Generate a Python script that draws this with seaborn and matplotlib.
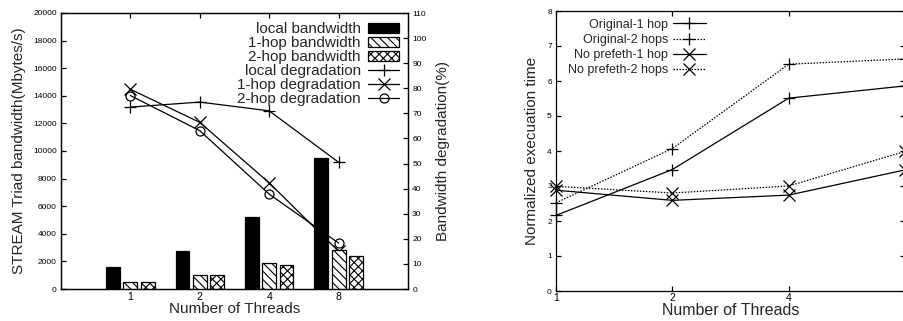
import matplotlib
matplotlib.use("Agg")
import matplotlib.pyplot as plt
import seaborn as sns
import pandas as pd
from matplotlib.patches import Patch
from matplotlib.lines import Line2D

# ---- data ----
threads = ["1", "2", "4", "8"]

local_bw = [1570, 2750, 5200, 9500]
hop1_bw = [520, 1050, 1920, 2800]
hop2_bw = [500, 980, 1760, 2400]

local_deg = [72.5, 74.5, 71.0, 50.5]
hop1_deg = [79.6, 66.4, 42.3, 15.0]
hop2_deg = [77.1, 63.1, 37.8, 18.3]

orig_1hop = [2.16, 3.47, 5.51, 5.86]
orig_2hops = [2.52, 4.07, 6.48, 6.63]
nopf_1hop = [2.88, 2.59, 2.74, 3.46]
nopf_2hops = [2.99, 2.80, 3.00, 3.99]

bw_series = ["local bandwidth", "1-hop bandwidth", "2-hop bandwidth"]
deg_series = ["local degradation", "1-hop degradation", "2-hop degradation"]
exec_series = ["Original-1 hop", "Original-2 hops", "No prefeth-1 hop", "No prefeth-2 hops"]

sns.set_style("ticks")
plt.rcParams["font.family"] = ["Liberation Sans", "DejaVu Sans"]
plt.rcParams["hatch.linewidth"] = 0.8

fig = plt.figure(figsize=(9.04, 3.21), dpi=100)

LW = 0.9


def style_axes(ax):
    for s in ax.spines.values():
        s.set_linewidth(LW)
        s.set_color("black")
    ax.tick_params(direction="in", length=3.5, width=LW, colors="black")


# ---- left panel: bandwidth bars + degradation lines ----
ax = fig.add_axes([61 / 904, 1 - 289 / 321, (408 - 61) / 904, (289 - 13) / 321])
ax2 = ax.twinx()

bw_df = pd.DataFrame({
    "threads": threads * 3,
    "series": [s for s in bw_series for _ in threads],
    "bw": local_bw + hop1_bw + hop2_bw,
})
sns.barplot(data=bw_df, x="threads", y="bw", hue="series", order=threads,
            hue_order=bw_series, palette=["black", "white", "white"],
            width=0.75, gap=0.2, edgecolor="black", linewidth=LW,
            legend=False, ax=ax)
hatches = [None, "\\\\\\\\", "xxxx"]
for cont, h in zip(ax.containers, hatches):
    for bar in cont:
        if h:
            bar.set_hatch(h)

x_pos = list(range(len(threads)))
deg_markers = ["+", "x", "o"]
deg_sizes = [8, 8, 6.5]
for vals, m, ms in zip([local_deg, hop1_deg, hop2_deg], deg_markers, deg_sizes):
    sns.lineplot(x=x_pos, y=vals, ax=ax2, color="black", lw=LW, marker=m,
                 markersize=ms, markerfacecolor="none", markeredgecolor="black",
                 markeredgewidth=LW)

# bars drawn above the degradation lines
ax.set_zorder(ax2.get_zorder() + 1)
ax.patch.set_visible(False)

ax.set_xlim(-1, 4)
ax.set_ylim(0, 20000)
ax.set_yticks(range(0, 20001, 2000))
ax2.set_ylim(0, 110)
ax2.set_yticks(range(0, 111, 10))
ax.set_xlabel("Number of Threads", fontsize=11, labelpad=0)
ax.set_ylabel("STREAM Triad bandwidth(Mbytes/s)", fontsize=11, labelpad=5)
ax2.set_ylabel("Bandwidth degradation(%)", fontsize=11, labelpad=7)
for a in (ax, ax2):
    style_axes(a)
ax.tick_params(axis="x", labelsize=7.5, pad=2, top=True)
ax.tick_params(axis="y", labelsize=6, pad=3)
ax2.tick_params(axis="y", labelsize=6, pad=3)

handles = [
    Patch(facecolor="black", edgecolor="black", lw=LW),
    Patch(facecolor="white", edgecolor="black", lw=LW, hatch="\\\\\\\\"),
    Patch(facecolor="white", edgecolor="black", lw=LW, hatch="xxxx"),
] + [
    Line2D([], [], color="black", lw=LW, marker=m, markersize=ms,
           markerfacecolor="none", markeredgewidth=LW)
    for m, ms in zip(deg_markers, deg_sizes)
]
ax.legend(handles, bw_series + deg_series, loc="upper right", markerfirst=False,
          frameon=False, fontsize=11, handlelength=2.0, handleheight=0.6,
          handletextpad=0.5, labelspacing=0.0, borderaxespad=0.45,
          borderpad=0.15)

# ---- right panel: normalized execution time ----
bx = fig.add_axes([556 / 904, 1 - 291 / 321, (905 - 556) / 904, (291 - 11) / 321])
exec_vals = [orig_1hop, orig_2hops, nopf_1hop, nopf_2hops]
exec_markers = ["+", "+", "x", "x"]
dotted = (0, (1.2, 1.2))
exec_styles = ["-", dotted, "-", dotted]
exec_sizes = [8, 8, 9, 9]
for vals, m, ls, ms in zip(exec_vals, exec_markers, exec_styles, exec_sizes):
    sns.lineplot(x=x_pos, y=vals, ax=bx, color="black", lw=LW,
                 marker=m, markersize=ms, markeredgewidth=LW,
                 markeredgecolor="black")
    line = bx.lines[-1]
    line.set_linestyle(ls)
    line.set_clip_on(False)

bx.set_xlim(0, 3)
bx.set_ylim(0, 8)
bx.set_xticks(x_pos)
bx.set_xticklabels(threads)
bx.set_yticks(range(0, 9))
bx.set_xlabel("Number of Threads", fontsize=11.5, labelpad=0)
bx.set_ylabel("Normalized execuation time", fontsize=11, labelpad=6)
style_axes(bx)
bx.tick_params(axis="x", labelsize=7.5, pad=1.5, top=True)
bx.tick_params(axis="y", labelsize=6, pad=3, right=True)

ex_handles = [
    Line2D([], [], color="black", lw=LW, linestyle=ls, marker=m,
           markersize=ms, markeredgewidth=LW)
    for m, ls, ms in zip(exec_markers, exec_styles, exec_sizes)
]
bx.legend(ex_handles, exec_series, loc="upper left", bbox_to_anchor=(0.02, 0.99),
          markerfirst=False, frameon=False, fontsize=9, handlelength=2.6,
          handletextpad=0.4, labelspacing=0.25, borderaxespad=0.2,
          borderpad=0.2)

fig.savefig("out.png", dpi=100)
